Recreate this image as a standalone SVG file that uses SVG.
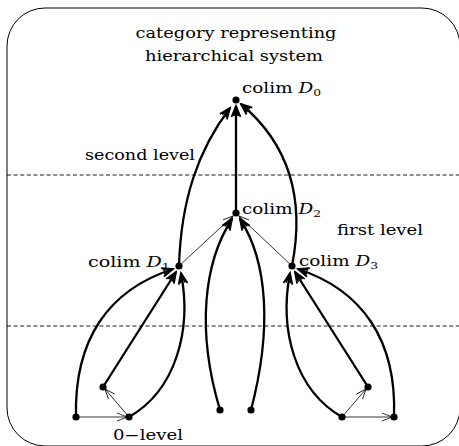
<svg xmlns="http://www.w3.org/2000/svg" width="459" height="446" viewBox="0 0 459 446">
<defs>
<style>
.t{font-family:"DejaVu Serif","Liberation Serif",serif;font-size:14px;fill:#000}
.c{font-family:"DejaVu Serif","Liberation Serif",serif;font-size:15px;fill:#000}
.thick{fill:none;stroke:#000;stroke-width:2.3;marker-end:url(#ah)}
.thin{fill:none;stroke:#000;stroke-width:0.8;marker-end:url(#al)}
.dash{stroke:#000;stroke-width:0.9;stroke-dasharray:4 2.6}
.dot{fill:#000}
</style>
<marker id="ah" viewBox="-12 -6 14 12" refX="0" refY="0" markerWidth="14" markerHeight="12" markerUnits="userSpaceOnUse" orient="auto">
<path d="M-11,-4.5 L0,0 L-11,4.5 M-10,-2.3 L0,0 L-10,2.3" fill="none" stroke="#000" stroke-width="1.8"/>
</marker>
<marker id="al" viewBox="-12 -6 14 12" refX="0" refY="0" markerWidth="14" markerHeight="12" markerUnits="userSpaceOnUse" orient="auto">
<path d="M-10,-4 L0,0 L-10,4" fill="none" stroke="#000" stroke-width="0.8"/>
</marker>
</defs>
<rect x="7" y="8" width="453" height="438" rx="38" ry="38" fill="none" stroke="#000" stroke-width="1"/>
<line class="dash" x1="7" y1="175" x2="459" y2="175"/>
<line class="dash" x1="7" y1="326" x2="459" y2="326"/>
<g id="labels">
<text class="t" x="236" y="38" text-anchor="middle" textLength="201" lengthAdjust="spacingAndGlyphs">category representing</text>
<text class="t" x="234" y="61" text-anchor="middle" textLength="178" lengthAdjust="spacingAndGlyphs">hierarchical system</text>
<text class="t" x="85" y="160" textLength="110" lengthAdjust="spacingAndGlyphs">second level</text>
<text class="t" x="337" y="235" textLength="86" lengthAdjust="spacingAndGlyphs">first level</text>
<text class="t" x="113" y="440" textLength="70" lengthAdjust="spacingAndGlyphs">0−level</text>
</g>
<g id="connectors">
<path class="thick" d="M179,266 C181,200 198,150 230,108"/>
<path class="thick" d="M236,213 L236,106"/>
<path class="thick" d="M292,266 C303,210 296,150 241,104"/>
<path class="thin" d="M179,266 L233,216"/>
<path class="thin" d="M292,266 L239,216"/>
<path class="thick" d="M220,410 C196,330 204,262 232,219"/>
<path class="thick" d="M251,410 C272,330 268,262 240,219"/>
<path class="thick" d="M76,417 C74,340 108,290 173,269"/>
<path class="thick" d="M103,387 L176,272"/>
<path class="thick" d="M129,417 C176,390 192,330 181,273"/>
<path class="thin" d="M76,417 L127,417"/>
<path class="thin" d="M129,417 L105,389"/>
<path class="thick" d="M342,417 C295,390 279,330 290,273"/>
<path class="thick" d="M368,387 L295,272"/>
<path class="thick" d="M394,417 C397,340 362,290 298,269"/>
<path class="thin" d="M342,417 L392,417"/>
<path class="thin" d="M342,417 L366,389"/>
</g>
<g id="D0"><circle class="dot" cx="236" cy="100" r="3.6"/><text class="c" x="242" y="93" textLength="79" lengthAdjust="spacingAndGlyphs">colim <tspan font-style="italic">D</tspan><tspan font-size="10" dy="3">0</tspan></text></g>
<g id="D2"><circle class="dot" cx="236" cy="213" r="3.6"/><text class="c" x="242" y="214" textLength="79" lengthAdjust="spacingAndGlyphs">colim <tspan font-style="italic">D</tspan><tspan font-size="10" dy="3">2</tspan></text></g>
<g id="D1"><circle class="dot" cx="179" cy="266" r="3.6"/><text class="c" x="88" y="267" textLength="82" lengthAdjust="spacingAndGlyphs">colim <tspan font-style="italic">D</tspan><tspan font-size="10" dy="3">1</tspan></text></g>
<g id="D3"><circle class="dot" cx="292" cy="266" r="3.6"/><text class="c" x="299" y="266" textLength="79" lengthAdjust="spacingAndGlyphs">colim <tspan font-style="italic">D</tspan><tspan font-size="10" dy="3">3</tspan></text></g>
<g id="a1"><circle class="dot" cx="76" cy="417" r="3.6"/></g>
<g id="a2"><circle class="dot" cx="103" cy="387" r="3.6"/></g>
<g id="a3"><circle class="dot" cx="129" cy="417" r="3.6"/></g>
<g id="b1"><circle class="dot" cx="220" cy="410" r="3.6"/></g>
<g id="b2"><circle class="dot" cx="251" cy="410" r="3.6"/></g>
<g id="c1"><circle class="dot" cx="342" cy="417" r="3.6"/></g>
<g id="c2"><circle class="dot" cx="368" cy="387" r="3.6"/></g>
<g id="c3"><circle class="dot" cx="394" cy="417" r="3.6"/></g>
</svg>
